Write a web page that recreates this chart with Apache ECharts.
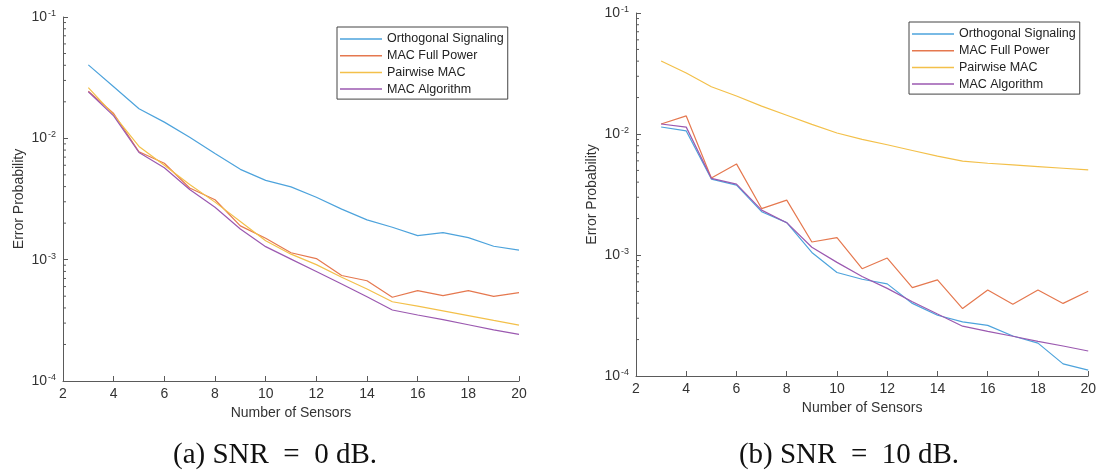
<!DOCTYPE html>
<html>
<head>
<meta charset="utf-8">
<script src="https://cdn.jsdelivr.net/npm/echarts@6/dist/echarts.min.js"></script>
<style>
html,body{margin:0;padding:0;background:#fff;}
#chart{width:1099px;height:472px;}
</style>
</head>
<body>
<div id="chart"></div>
<script>
// ---- data ----
const sensors = [3,4,5,6,7,8,9,10,11,12,13,14,15,16,17,18,19,20];
const seriesNames = ['Orthogonal Signaling','MAC Full Power','Pairwise MAC','MAC Algorithm'];
const xTicks = [2,4,6,8,10,12,14,16,18,20];
const yMinorTicks = [2e-4,3e-4,4e-4,5e-4,6e-4,7e-4,8e-4,9e-4,
                     2e-3,3e-3,4e-3,5e-3,6e-3,7e-3,8e-3,9e-3,
                     2e-2,3e-2,4e-2,5e-2,6e-2,7e-2,8e-2,9e-2];
const captions = ['(a) SNR\u2002=\u20020 dB.', '(b) SNR\u2002=\u200210 dB.'];

// (a) SNR = 0 dB
const a_orthogonal = [0.0403,0.0266,0.01755,0.0136,0.0102,0.0075,0.00555,0.0045,0.00398,0.00327,0.00261,0.00213,0.00185,0.00158,0.00167,0.00152,0.00129,0.0012];
const a_fullPower  = [0.0245,0.016,0.00775,0.00623,0.0039,0.00312,0.0019,0.0015,0.00114,0.00102,0.00074,0.00067,0.00049,0.000555,0.000505,0.000555,0.000498,0.000535];
const a_pairwise   = [0.0262,0.0156,0.00858,0.006,0.00416,0.00298,0.00206,0.00143,0.00111,0.00091,0.000717,0.000573,0.00045,0.000414,0.000379,0.000346,0.000316,0.000289];
const a_algorithm  = [0.0242,0.0153,0.00764,0.00573,0.00379,0.0027,0.00179,0.00128,0.00101,0.0008,0.00063,0.000494,0.000385,0.00035,0.00032,0.000291,0.000264,0.000242];

// (b) SNR = 10 dB
const b_orthogonal = [0.01143,0.0106,0.00424,0.00378,0.00228,0.00185,0.00105,0.000717,0.00063,0.000577,0.000398,0.000318,0.00028,0.000262,0.000214,0.000187,0.000126,0.000112];
const b_fullPower  = [0.0121,0.0141,0.00433,0.00566,0.00242,0.00284,0.00128,0.00139,0.00077,0.000944,0.000538,0.000623,0.000361,0.000514,0.000391,0.000514,0.000398,0.000501];
const b_pairwise   = [0.0401,0.0319,0.0246,0.0206,0.017,0.0143,0.012,0.0102,0.00903,0.00815,0.00731,0.00656,0.00596,0.00573,0.00555,0.00538,0.00521,0.00505];
const b_algorithm  = [0.0121,0.0114,0.0043,0.00385,0.00235,0.00185,0.00116,0.000869,0.000664,0.00053,0.000411,0.000325,0.000258,0.000234,0.000213,0.000193,0.000177,0.000161];

const colors = ['#4da3dc','#e5784f','#f3c04a','#9b59b0'];

// ---- chart ----
const chart = echarts.init(document.getElementById('chart'), null, {renderer:'canvas'});
const axisColor = '#5a5a5a';
const labelColor = '#333';
const FONT = 'Liberation Sans, Arial, sans-serif';

const pairs = arr => arr.map((v,i)=>[sensors[i], v]);

function xAxisOpt(gi, gap){
  return {
    type:'value', gridIndex:gi, min:2, max:20, interval:2,
    name:'Number of Sensors', nameLocation:'middle', nameGap:gap,
    nameTextStyle:{color:labelColor, fontSize:14, fontFamily:FONT},
    axisLine:{show:true, lineStyle:{color:axisColor, width:1}},
    axisTick:{show:true, inside:true, length:5, lineStyle:{color:axisColor}},
    axisLabel:{color:labelColor, fontSize:14, fontFamily:FONT, margin:6},
    splitLine:{show:false}
  };
}
function yAxisOpt(gi, gap){
  return {
    type:'log', logBase:10, gridIndex:gi, min:1e-4, max:1e-1, interval:1,
    name:'Error Probability', nameLocation:'middle', nameGap:gap,
    nameTextStyle:{color:labelColor, fontSize:14, fontFamily:FONT},
    axisLine:{show:true, lineStyle:{color:axisColor, width:1}},
    axisTick:{show:true, inside:true, length:5, lineStyle:{color:axisColor}},
    axisLabel:{
      color:labelColor, margin:7,
      formatter: v => '{b|10}{s|' + Math.round(Math.log10(v)) + '}',
      rich:{
        b:{fontSize:14, fontFamily:FONT, color:labelColor, lineHeight:16},
        s:{fontSize:9, fontFamily:FONT, color:labelColor, verticalAlign:'top', lineHeight:16, padding:[0,0,6,1]}
      }
    },
    splitLine:{show:false}
  };
}
function minorTickSeries(gi){
  return {
    type:'custom', xAxisIndex:gi, yAxisIndex:gi, silent:true, z:5,
    data: yMinorTicks.map(v=>[2, v]),
    renderItem:(params, api)=>{
      const p = api.coord([api.value(0), api.value(1)]);
      return {type:'line', shape:{x1:p[0], y1:p[1], x2:p[0]+3, y2:p[1]},
              style:{stroke:axisColor, lineWidth:1}};
    }
  };
}
function lineSeries(gi, name, data, ci){
  return {
    type:'line', name:name, xAxisIndex:gi, yAxisIndex:gi,
    data:pairs(data), symbol:'none', smooth:false,
    lineStyle:{color:colors[ci], width:1.2}, itemStyle:{color:colors[ci]},
    animation:false
  };
}
function legendOpt(left, top){
  return {
    left:left, top:top, orient:'vertical',
    data:seriesNames, icon:'rect', itemWidth:42, itemHeight:1.5, itemGap:2.7,
    padding:[5,4,3,3], borderColor:'#444', borderWidth:1, backgroundColor:'#fff',
    textStyle:{color:'#222', fontSize:12.5, fontFamily:FONT, lineHeight:14},
    selectedMode:false
  };
}

const option = {
  backgroundColor:'#fff',
  animation:false,
  grid:[
    {left:63, top:17, width:456, height:364, containLabel:false},
    {left:636, top:13, width:456, height:363, containLabel:false}
  ],
  xAxis:[xAxisOpt(0, 24), xAxisOpt(1, 25)],
  yAxis:[yAxisOpt(0, 37), yAxisOpt(1, 37)],
  legend:[legendOpt(337, 27), legendOpt(909, 22)],
  title:[
    {text:captions[0], left:270, top:450, textAlign:'center', textVerticalAlign:'middle',
     textStyle:{fontFamily:'Liberation Serif, serif', fontWeight:'normal', fontSize:29, color:'#111'}},
    {text:captions[1], left:844, top:450, textAlign:'center', textVerticalAlign:'middle',
     textStyle:{fontFamily:'Liberation Serif, serif', fontWeight:'normal', fontSize:29, color:'#111'}}
  ],
  series:[
    lineSeries(0, seriesNames[0], a_orthogonal, 0),
    lineSeries(0, seriesNames[1], a_fullPower, 1),
    lineSeries(0, seriesNames[2], a_pairwise, 2),
    lineSeries(0, seriesNames[3], a_algorithm, 3),
    lineSeries(1, seriesNames[0], b_orthogonal, 0),
    lineSeries(1, seriesNames[1], b_fullPower, 1),
    lineSeries(1, seriesNames[2], b_pairwise, 2),
    lineSeries(1, seriesNames[3], b_algorithm, 3),
    minorTickSeries(0),
    minorTickSeries(1)
  ]
};
chart.setOption(option);
</script>
</body>
</html>
